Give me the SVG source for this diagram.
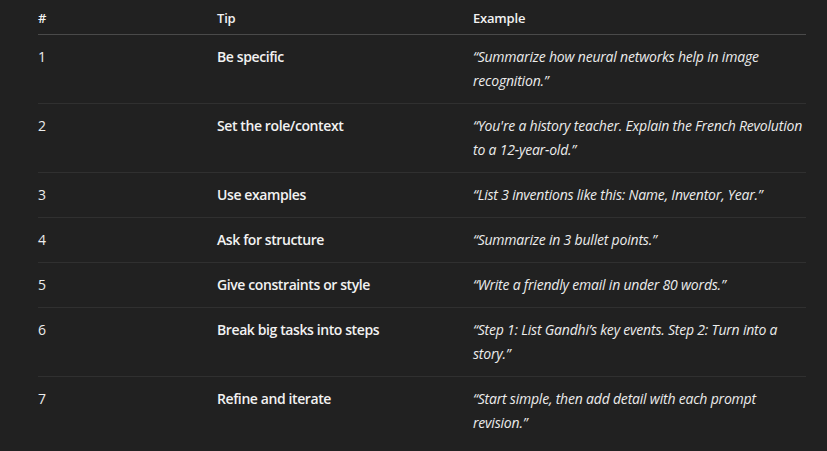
<svg xmlns="http://www.w3.org/2000/svg" width="827" height="451" viewBox="0 0 827 451">
<style>
text{font-family:"Open Sans","Noto Sans","DejaVu Sans",sans-serif;font-size:14px;fill:#ececec}
.h{font-weight:600;fill:#f2f2f2;font-size:13px;letter-spacing:-0.2px}
.t{font-weight:600;fill:#f2f2f2;letter-spacing:-0.4px}
.e{font-style:italic;letter-spacing:-0.2px}
.hl{stroke:#4a4a4a;stroke-width:1}
.rl{stroke:#303030;stroke-width:1}
</style>
<rect width="827" height="451" fill="#212121"/>
<g id="rules">
<line class="hl" x1="38" y1="34.5" x2="806" y2="34.5"/>
<line class="rl" x1="38" y1="103.5" x2="806" y2="103.5"/>
<line class="rl" x1="38" y1="172.5" x2="806" y2="172.5"/>
<line class="rl" x1="38" y1="217.5" x2="806" y2="217.5"/>
<line class="rl" x1="38" y1="262.5" x2="806" y2="262.5"/>
<line class="rl" x1="38" y1="307.5" x2="806" y2="307.5"/>
<line class="rl" x1="38" y1="376.5" x2="806" y2="376.5"/>
</g>
<g id="header">
<text class="h" x="38" y="23">#</text>
<text class="h" x="217" y="23">Tip</text>
<text class="h" x="473" y="23">Example</text>
</g>
<g id="row1">
<text x="38" y="62">1</text>
<text class="t" x="217" y="62">Be specific</text>
<text class="e" x="473" y="62">“Summarize how neural networks help in image</text>
<text class="e" x="473" y="86">recognition.”</text>
</g>
<g id="row2">
<text x="38" y="131">2</text>
<text class="t" x="217" y="131">Set the role/context</text>
<text class="e" x="473" y="131">“You're a history teacher. Explain the French Revolution</text>
<text class="e" x="473" y="155">to a 12-year-old.”</text>
</g>
<g id="row3">
<text x="38" y="200">3</text>
<text class="t" x="217" y="200">Use examples</text>
<text class="e" x="473" y="200">“List 3 inventions like this: Name, Inventor, Year.”</text>
</g>
<g id="row4">
<text x="38" y="245">4</text>
<text class="t" x="217" y="245">Ask for structure</text>
<text class="e" x="473" y="245">“Summarize in 3 bullet points.”</text>
</g>
<g id="row5">
<text x="38" y="290">5</text>
<text class="t" x="217" y="290">Give constraints or style</text>
<text class="e" x="473" y="290">“Write a friendly email in under 80 words.”</text>
</g>
<g id="row6">
<text x="38" y="335">6</text>
<text class="t" x="217" y="335">Break big tasks into steps</text>
<text class="e" x="473" y="335">“Step 1: List Gandhi’s key events. Step 2: Turn into a</text>
<text class="e" x="473" y="359">story.”</text>
</g>
<g id="row7">
<text x="38" y="404">7</text>
<text class="t" x="217" y="404">Refine and iterate</text>
<text class="e" x="473" y="404">“Start simple, then add detail with each prompt</text>
<text class="e" x="473" y="428">revision.”</text>
</g>
</svg>
